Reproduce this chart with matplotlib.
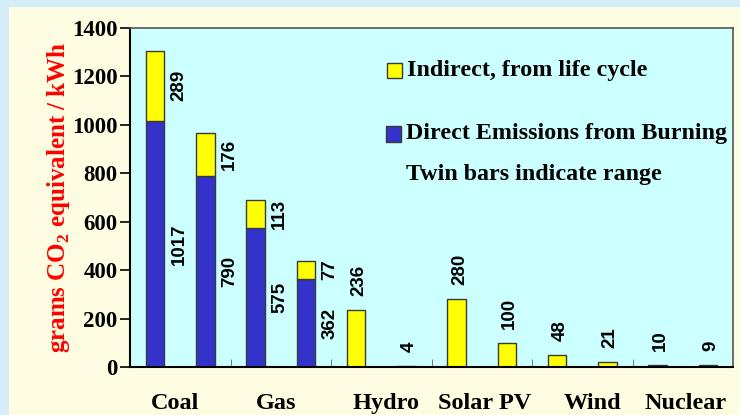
import matplotlib
matplotlib.use("Agg")
import matplotlib.pyplot as plt
from matplotlib.patches import Rectangle
import numpy as np

# Data (g CO2-eq / kWh), twin bars per source = low / high estimate
sources = ['Coal', 'Gas', 'Hydro', 'Solar PV', 'Wind', 'Nuclear']
direct = [1017, 790, 575, 362, 0, 0, 0, 0, 0, 0, 0, 0]
indirect = [289, 176, 113, 77, 236, 4, 280, 100, 48, 21, 10, 9]
yticks = [0, 200, 400, 600, 800, 1000, 1200, 1400]

plt.rcParams['mathtext.fontset'] = 'custom'
plt.rcParams['mathtext.rm'] = 'Liberation Serif:bold'
plt.rcParams['mathtext.bf'] = 'Liberation Serif:bold'

serif = dict(family='Liberation Serif', weight='bold')
sans = dict(family='Liberation Sans', weight='bold')

blue = '#3333cc'
yellow = '#ffff00'
edge = '#3a3a3a'

fig = plt.figure(figsize=(7.4, 4.15), dpi=100)
fig.patch.set_facecolor('#d6eef9')
fig.patches.append(Rectangle((9 / 740, 0), 1, 1 - 7 / 415, transform=fig.transFigure,
                             facecolor='#fffde1', edgecolor='none', zorder=-10))

ax = fig.add_axes([130 / 740, 1 - 367 / 415, 603 / 740, 339 / 415])
ax.set_facecolor('#ccffff')

x = np.arange(len(indirect)) + 0.5
w = 0.37
ax.bar(x, direct, w, color=blue, edgecolor=edge, linewidth=1)
ax.bar(x, indirect, w, bottom=direct, color=yellow, edgecolor=edge, linewidth=1)

# value labels
for xi, d, ind in zip(x, direct, indirect):
    if d > 0:
        ax.text(xi + 0.48, d / 2, str(d), rotation=90, ha='center', va='center',
                fontsize=13.5, **sans)
        ax.text(xi + 0.48, d + ind / 2, str(ind), rotation=90, ha='center', va='center',
                fontsize=13.5, **sans)
    else:
        ax.annotate(str(ind), (xi, ind), xytext=(2, 10), textcoords='offset points',
                    rotation=90, ha='center', va='bottom', fontsize=13.5, **sans)

ax.set_xlim(0, 12)
ax.set_ylim(0, 1400)
ax.set_yticks(yticks)
ax.set_yticklabels([str(v) for v in yticks], fontsize=16.5, **serif)
ax.tick_params(axis='y', direction='out', length=7, width=1.2, pad=2)

ax.set_xticks([0.9, 2.9, 5.1, 7.05, 9.2, 11.05])
ax.set_xticklabels(sources, fontsize=17.5, **serif)
ax.tick_params(axis='x', which='major', length=0, pad=19)
ax.set_xticks([2, 4, 6, 8, 10], minor=True)
ax.tick_params(axis='x', which='minor', direction='in', length=6, color='#666666')

ax.set_ylabel('grams CO$_2$ equivalent / kWh', color='red', fontsize=18, **serif)
ax.yaxis.set_label_coords(-0.097, 0.5)

for s in ['left', 'bottom']:
    ax.spines[s].set_color('black')
    ax.spines[s].set_linewidth(1.5)
for s in ['top', 'right']:
    ax.spines[s].set_color('#555555')
    ax.spines[s].set_linewidth(1.2)

# legend box-style annotations
ax.add_patch(Rectangle((0.426, 0.853), 0.025, 0.043, transform=ax.transAxes,
                       facecolor=yellow, edgecolor=edge, linewidth=1, clip_on=False))
ax.text(0.460, 0.876, 'Indirect, from life cycle', transform=ax.transAxes,
        va='center', ha='left', fontsize=17.3, **serif)
ax.add_patch(Rectangle((0.424, 0.665), 0.025, 0.046, transform=ax.transAxes,
                       facecolor=blue, edgecolor=edge, linewidth=1, clip_on=False))
ax.text(0.457, 0.69, 'Direct Emissions from Burning', transform=ax.transAxes,
        va='center', ha='left', fontsize=17.3, **serif)
ax.text(0.458, 0.567, 'Twin bars indicate range', transform=ax.transAxes,
        va='center', ha='left', fontsize=17.3, **serif)

fig.savefig('out.png', dpi=100, facecolor=fig.get_facecolor())
